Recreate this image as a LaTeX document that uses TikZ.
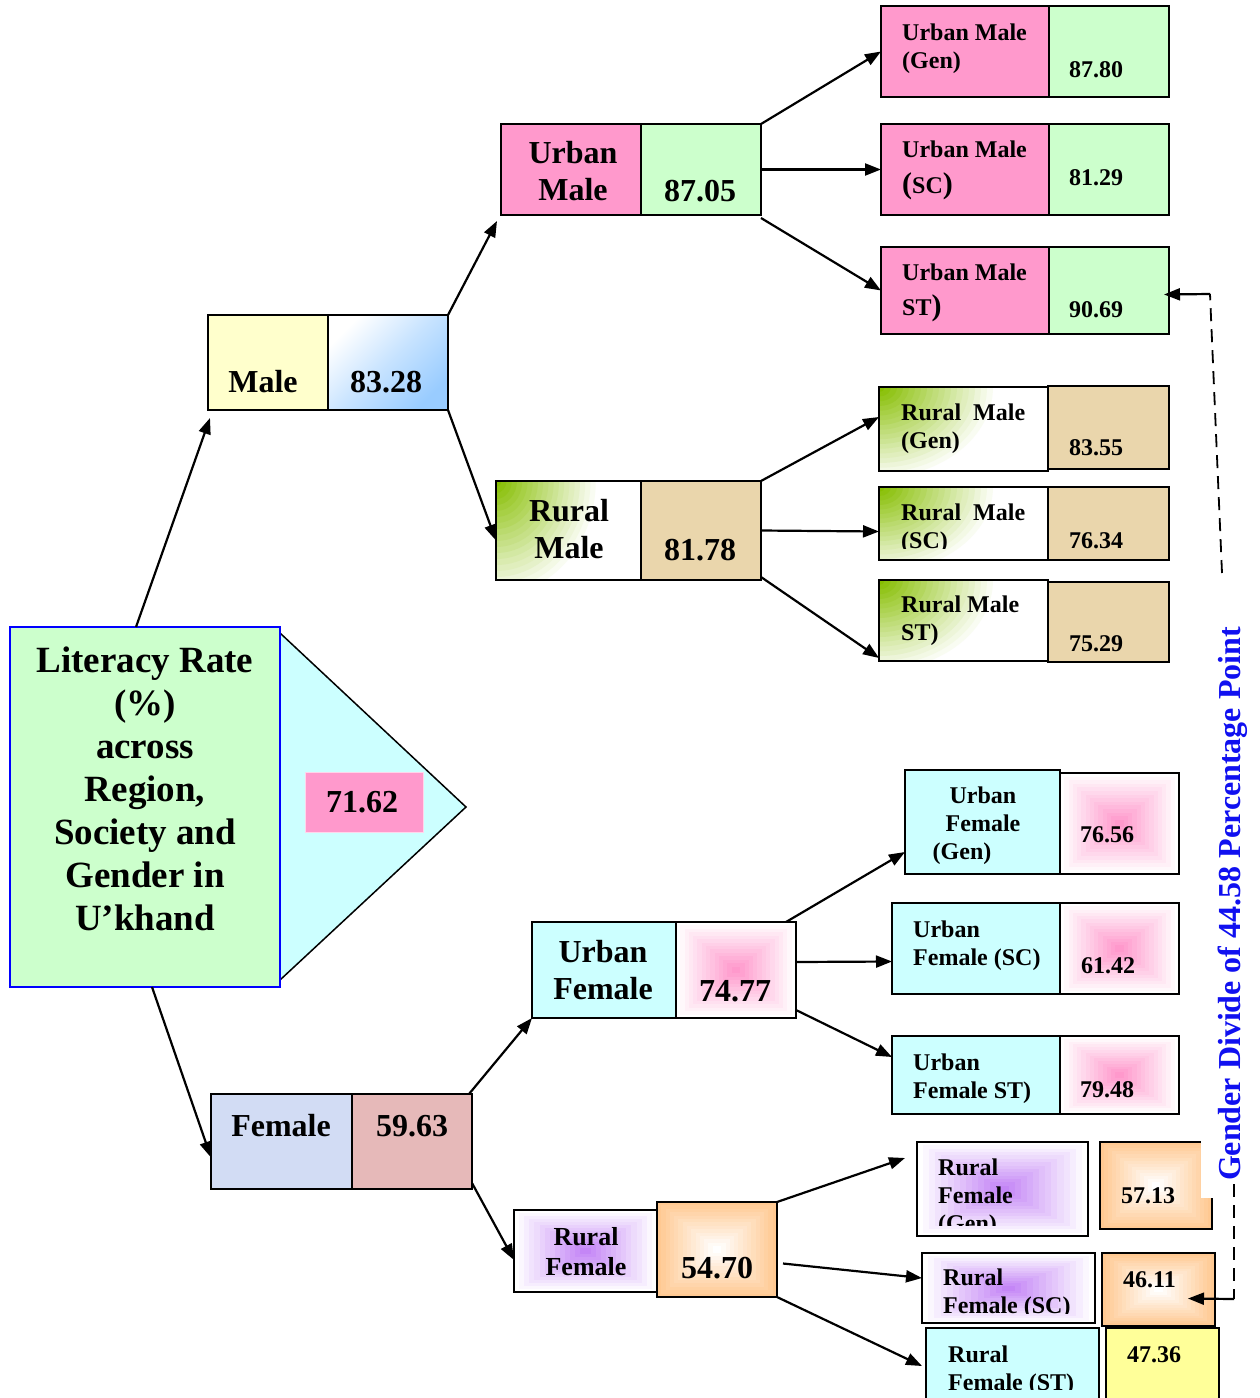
\documentclass[tikz,border=0pt]{standalone}
\usepackage{fontspec}
\setmainfont{Liberation Serif}
\usetikzlibrary{arrows.meta,calc}
\definecolor{mgreen}{HTML}{CCFFCC}
\definecolor{mpink}{HTML}{FF99CC}
\definecolor{mcyan}{HTML}{CCFFFF}
\definecolor{myellow}{HTML}{FFFFCC}
\definecolor{lyellow}{HTML}{FFFF99}
\definecolor{tanc}{HTML}{EAD6AC}
\definecolor{peach}{HTML}{FFC992}
\definecolor{purp}{HTML}{C486F6}
\definecolor{femblue}{HTML}{D2DCF4}
\definecolor{femrose}{HTML}{E6B9B9}
\definecolor{rmgreen}{HTML}{86BE00}
\definecolor{mblue}{HTML}{99CCFF}
\definecolor{gdblue}{HTML}{1010F0}
\definecolor{mainblue}{HTML}{0000FF}
\newcommand\bigpar[1]{{\fontsize{30}{30}\selectfont #1}}
\newcommand\bx[6]{\node[bx,#6,minimum width={(#4-#2)*1pt},minimum height={(#5-#3)*1pt}] (#1) at (#2,#3) {};}
\tikzset{
 bx/.style={draw=black, line width=1.5pt, inner sep=0pt, outer sep=0pt, anchor=north west},
 rgrad/.style 2 args={fill=#1, path picture={%
   \foreach \k in {0,...,13}{%
     \pgfmathsetmacro\rgT{\k/14}%
     \pgfmathtruncatemacro\rgP{100*\k/13}%
     \fill[#2!\rgP!#1] ($(path picture bounding box.south west)!\rgT!(path picture bounding box.center)$) rectangle ($(path picture bounding box.north east)!\rgT!(path picture bounding box.center)$);}}},
 cgrad/.style 2 args={fill=white, path picture={%
   \foreach \k in {0,...,19}{%
     \pgfmathsetmacro\rgT{1-\k/20}%
     \pgfmathtruncatemacro\rgP{100*\k/19}%
     \fill[rmgreen!\rgP!white] (path picture bounding box.north west) ellipse [x radius=\rgT*#1, y radius=\rgT*#2];}}},
 arr/.style={line width=2.2pt, -{Triangle[length=16pt,width=12pt]}},
 dsh/.style={line width=1.8pt, dash pattern=on 13pt off 8pt},
 t37/.style={font=\fontsize{37}{43}\selectfont\bfseries},
 t32/.style={font=\fontsize{32}{37}\selectfont\bfseries},
 t26/.style={font=\fontsize{26}{30}\selectfont\bfseries},
 t24/.style={font=\fontsize{24}{28}\selectfont\bfseries},
 lbl/.style={inner sep=0pt, anchor=base west, align=left},
 clbl/.style={inner sep=0pt, anchor=base, align=center},
}
\begin{document}
\begin{tikzpicture}[x=1pt,y=-1pt]
\useasboundingbox (0,0) rectangle (1259,1398);
% arrow-shaped background of the title
\coordinate (tip) at (466,807);
\draw[line width=1.5pt, fill=mcyan] (280,633) -- (tip) -- (280,980);
\bx{main}{10}{627}{280}{987}{draw=mainblue, line width=2pt, fill=mgreen}
\node[t37, clbl] (maint) at (145,930) {Literacy Rate\\(\%)\\across\\Region,\\Society and\\Gender in\\U’khand};
\bx{tot}{305}{772}{423}{832}{draw=mpink!40, line width=1pt, fill=mpink}
\node[t32, clbl] (tott) at (362,812) {71.62};
% level 1
\bx{maleL}{208}{315}{328}{410}{fill=myellow}
\bx{maleV}{328}{315}{448}{410}{top color=white, bottom color=mblue, middle color=mblue!55, shading angle=45}
\node[t32, clbl] (maleT) at (263,392) {Male};
\node[t32, clbl] (maleVT) at (386,392) {83.28};
\bx{femL}{211}{1094}{352}{1189}{fill=femblue}
\bx{femV}{352}{1094}{472}{1189}{fill=femrose}
\node[t32, clbl] (femT) at (281,1136) {Female};
\node[t32, clbl] (femVT) at (412,1136) {59.63};
% level 2
\bx{umL}{501}{124}{641}{215}{fill=mpink}
\bx{umV}{641}{124}{761}{215}{fill=mgreen}
\node[t32, clbl] (umT) at (573,200) {Urban\\Male};
\node[t32, clbl] (umVT) at (700,201) {87.05};
\bx{rmL}{496}{481}{641}{580}{cgrad={105pt}{120pt}}
\bx{rmV}{641}{481}{761}{580}{fill=tanc}
\node[t32, clbl] (rmT) at (569,558) {Rural\\Male};
\node[t32, clbl] (rmVT) at (700,560) {81.78};
\bx{ufL}{532}{922}{676}{1018}{fill=mcyan}
\bx{ufV}{676}{922}{796}{1018}{rgrad={white}{mpink}}
\node[t32, clbl] (ufT) at (603,999) {Urban\\Female};
\node[t32, clbl] (ufVT) at (735,1001) {74.77};
\bx{rfL}{514}{1210}{657}{1292}{rgrad={white}{purp}}
\bx{rfV}{657}{1202}{777}{1297}{rgrad={peach}{white}}
\node[t26, clbl] (rfT) at (586,1275) {Rural\\Female};
\node[t32, clbl] (rfVT) at (717,1278) {54.70};
% level 3: urban male
\bx{umgL}{881}{6}{1049}{97}{fill=mpink}
\bx{umgV}{1049}{6}{1169}{97}{fill=mgreen}
\node[t24, lbl] (umgT) at (902,68) {Urban Male\\(Gen)};
\node[t24, lbl] (umgVT) at (1069,77) {87.80};
\bx{umsL}{881}{124}{1049}{215}{fill=mpink}
\bx{umsV}{1049}{124}{1169}{215}{fill=mgreen}
\node[t24, lbl] (umsT) at (902,193) {Urban Male\\[8pt]\bigpar{(}SC\bigpar{)}};
\node[t24, lbl] (umsVT) at (1069,185) {81.29};
\bx{umtL}{881}{247}{1049}{334}{fill=mpink}
\bx{umtV}{1049}{247}{1169}{334}{fill=mgreen}
\node[t24, lbl] (umtT) at (902,315) {Urban Male\\[7pt]ST\bigpar{)}};
\node[t24, lbl] (umtVT) at (1069,317) {90.69};
% level 3: rural male
\bx{rmgL}{879}{387}{1048}{471}{cgrad={120pt}{95pt}}
\bx{rmgV}{1048}{386}{1169}{469}{fill=tanc}
\node[t24, lbl] (rmgT) at (901,448) {Rural\ \ Male\\(Gen)};
\node[t24, lbl] (rmgVT) at (1069,455) {83.55};
\bx{rmsL}{879}{487}{1048}{560}{cgrad={120pt}{90pt}}
\bx{rmsV}{1048}{487}{1169}{560}{fill=tanc}
\begin{scope}
\clip (rmsL.north west) rectangle ($(rmsL.south east)+(0,-12)$);
\node[t24, lbl] (rmsT) at (901,548) {Rural\ \ Male\\(SC)};
\end{scope}
\node[t24, lbl] (rmsVT) at (1069,548) {76.34};
\bx{rmtL}{879}{580}{1048}{661}{cgrad={120pt}{95pt}}
\bx{rmtV}{1048}{582}{1169}{662}{fill=tanc}
\node[t24, lbl] (rmtT) at (901,640) {Rural Male\\ST)};
\node[t24, lbl] (rmtVT) at (1069,651) {75.29};
% level 3: urban female
\bx{ufgL}{905}{770}{1060}{874}{fill=mcyan}
\bx{ufgV}{1060}{773}{1179}{874}{rgrad={white}{mpink}}
\node[t24, clbl] (ufgT) at (983,859) {Urban\\Female\\(Gen)\hspace*{42pt}};
\node[t24, lbl] (ufgVT) at (1080,842) {76.56};
\bx{ufsL}{892}{903}{1060}{994}{fill=mcyan}
\bx{ufsV}{1060}{903}{1179}{994}{rgrad={white}{mpink}}
\node[t24, lbl] (ufsT) at (913,965) {Urban\\Female (SC)};
\node[t24, lbl] (ufsVT) at (1081,973) {61.42};
\bx{uftL}{892}{1036}{1060}{1114}{fill=mcyan}
\bx{uftV}{1060}{1036}{1179}{1114}{rgrad={white}{mpink}}
\node[t24, lbl] (uftT) at (913,1098) {Urban\\Female ST)};
\node[t24, lbl] (uftVT) at (1080,1097) {79.48};
% level 3: rural female
\bx{rfgL}{917}{1142}{1088}{1236}{rgrad={white}{purp}}
\bx{rfgV}{1100}{1142}{1212}{1229}{rgrad={peach}{white}}
\begin{scope}
\clip (rfgL.north west) rectangle ($(rfgL.south east)+(0,-11)$);
\node[t24, lbl] (rfgT) at (938,1231) {Rural\\Female\\(Gen)};
\end{scope}
\node[t24, lbl] (rfgVT) at (1121,1203) {57.13};
\bx{rfsL}{922}{1253}{1095}{1323}{rgrad={white}{purp}}
\bx{rfsV}{1102}{1253}{1215}{1326}{rgrad={peach}{white}}
\begin{scope}
\clip (rfsL.north west) rectangle ($(rfsL.south east)+(0,-10)$);
\node[t24, lbl] (rfsT) at (943,1313) {Rural\\Female (SC)};
\end{scope}
\node[t24, lbl] (rfsVT) at (1123,1287) {46.11};
\bx{rftL}{926}{1328}{1099}{1410}{fill=mcyan}
\bx{rftV}{1106}{1328}{1219}{1410}{fill=lyellow}
\begin{scope}
\clip (rftL.north west) rectangle (1099,1389);
\node[t24, lbl] (rftT) at (948,1390) {Rural\\Female (ST)};
\end{scope}
\node[t24, lbl] (rftVT) at (1127,1362) {47.36};
% side label
\node[t32, rotate=90, fill=white, text=gdblue, inner sep=17pt] (gd) at (1233,904) {Gender Divide of 44.58 Percentage Point};
% connectors
\draw[arr] ($(main.north)+(-9,0)$) -- ($(maleL.south west)+(2,8)$);
\draw[arr] ($(main.south)+(7,0)$) -- ($(femL.west)+(0,16)$);
\draw[arr] (maleV.north east) -- ($(umL.south west)+(-4,6)$);
\draw[arr] (maleV.south east) -- ($(rmL.west)+(0,10)$);
\draw[arr] (umV.north east) -- (umgL.west);
\draw[arr] (umV.east) -- (umsL.west);
\draw[arr] ($(umV.south east)+(0,3)$) -- (umtL.west);
\draw[arr] (rmV.north east) -- ($(rmgL.west)+(0,-12)$);
\draw[arr] (rmV.east) -- ($(rmsL.west)+(0,8)$);
\draw[arr] ($(rmV.south east)+(0,-3)$) -- ($(rmtL.south west)+(0,-3)$);
\draw[arr] ($(femV.north east)+(-3,0)$) -- (ufL.south west);
\draw[arr] ($(femV.south east)+(0,-6)$) -- ($(rfL.west)+(0,9)$);
\draw[arr] ($(ufV.north east)+(-10,0)$) -- ($(ufgL.west)+(0,30)$);
\draw[arr] ($(ufV.east)+(0,-8)$) -- ($(ufsL.west)+(0,13)$);
\draw[arr] ($(ufV.south east)+(0,-8)$) -- ($(uftL.west)+(0,-18)$);
\draw[arr] (rfV.north east) -- ($(rfgL.west)+(-12,-31)$);
\draw[arr] ($(rfV.east)+(6,14)$) -- ($(rfsL.west)+(0,-10)$);
\draw[arr] (rfV.south east) -- ($(rftL.north west)+(-4,38)$);
% gender divide markers
\coordinate (d1) at (1222,573);
\coordinate (d2) at (1210,294);
\draw[dsh] (d1) -- (d2);
\draw[arr] (d2) -- ($(umtV.east)+(-5,4)$);
\coordinate (d3) at (1234,1184);
\coordinate (d4) at (1234,1299);
\draw[dsh] (d3) -- (d4);
\draw[arr] (d4) -- ($(rfsV.east)+(-27,9)$);
\end{tikzpicture}
\end{document}
